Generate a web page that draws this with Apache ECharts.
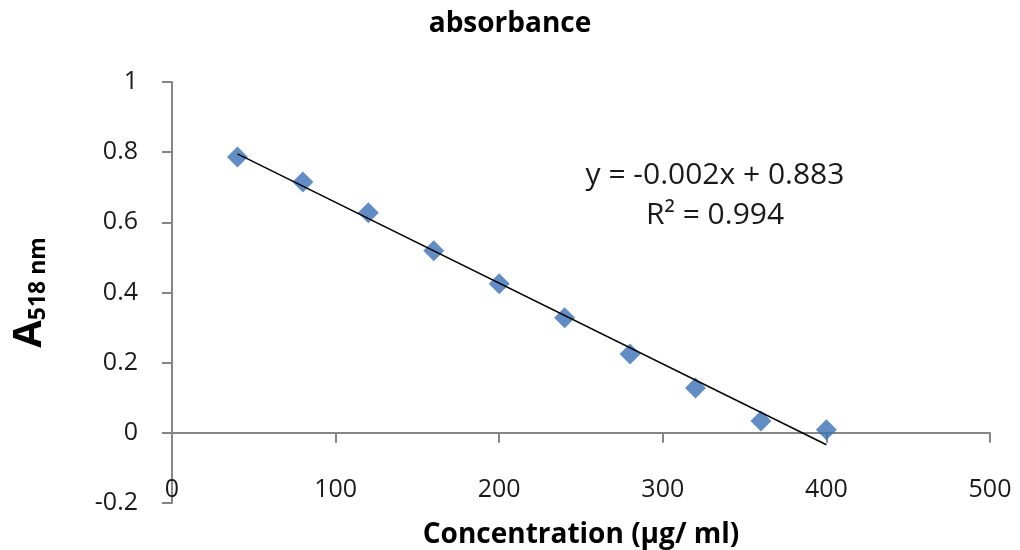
<!DOCTYPE html>
<html>
<head>
<meta charset="utf-8">
<script src="https://cdn.jsdelivr.net/npm/echarts@6/dist/echarts.min.js"></script>
<style>
  html, body { margin: 0; padding: 0; background: #fff; }
  #chart { width: 1020px; height: 550px; }
</style>
</head>
<body>
<div id="chart"></div>
<script>
// concentration (µg/ml) and absorbance
const concentration = [40, 80, 120, 160, 200, 240, 280, 320, 360, 400]
const absorbance = [0.786, 0.715, 0.627, 0.519, 0.425, 0.328, 0.225, 0.128, 0.034, 0.009]
// linear trendline endpoints
const trendX = [40, 400]
const trendY = [0.795, -0.034]
const equationText = ['y = -0.002x + 0.883', 'R² = 0.994']

const axisColor = '#868686'
const textColor = '#1a1a1a'

const chart = echarts.init(document.getElementById('chart'))
chart.setOption({
  animation: false,
  title: {
    text: 'absorbance',
    left: 'center',
    top: 5,
    textStyle: { fontFamily: 'Open Sans', fontWeight: 'bold', fontSize: 28, color: '#000' },
  },
  grid: { left: 172, right: 30, top: 82, bottom: 47, outerBoundsMode: 'none' },
  xAxis: {
    type: 'value',
    min: 0,
    max: 500,
    interval: 100,
    axisLine: { onZero: true, lineStyle: { color: axisColor, width: 2 } },
    axisTick: { show: true, length: 10, inside: false, lineStyle: { color: axisColor, width: 2 } },
    splitLine: { show: false },
    axisLabel: { margin: -26, color: textColor, fontFamily: 'Open Sans', fontSize: 25 },
    name: 'Concentration (µg/ ml)',
    nameLocation: 'middle',
    nameGap: 18,
    nameTextStyle: { fontFamily: 'Open Sans', fontWeight: 'bold', fontSize: 28, color: '#000' },
  },
  yAxis: {
    type: 'value',
    min: -0.2,
    max: 1,
    interval: 0.2,
    axisLine: { show: true, onZero: false, lineStyle: { color: axisColor, width: 2 } },
    axisTick: { show: true, length: 10, lineStyle: { color: axisColor, width: 2 } },
    splitLine: { show: false },
    axisLabel: { margin: 34, color: textColor, fontFamily: 'Open Sans', fontSize: 25 },
    name: '{a|A}{s|518 nm}',
    nameLocation: 'middle',
    nameRotate: 90,
    nameGap: 122,
    nameTextStyle: {
      rich: {
        a: { fontFamily: 'Open Sans', fontWeight: 'bold', fontSize: 40, color: '#000' },
        s: { fontFamily: 'Open Sans', fontWeight: 'bold', fontSize: 23, color: '#000', padding: [16, 0, 0, 0] },
      },
    },
  },
  graphic: [
    {
      type: 'text',
      x: 715,
      y: 175,
      style: {
        text: equationText[0],
        font: '30px "Open Sans"',
        fill: textColor,
        align: 'center',
        verticalAlign: 'middle',
      },
    },
    {
      type: 'text',
      x: 715,
      y: 215,
      style: {
        text: equationText[1],
        font: '30px "Open Sans"',
        fill: textColor,
        align: 'center',
        verticalAlign: 'middle',
      },
    },
  ],
  series: [
    {
      name: 'trend',
      type: 'line',
      data: trendX.map((x, i) => [x, trendY[i]]),
      symbol: 'none',
      lineStyle: { color: '#000', width: 1.5 },
      z: 3,
    },
    {
      name: 'absorbance',
      type: 'scatter',
      data: concentration.map((x, i) => [x, absorbance[i]]),
      symbol: 'diamond',
      symbolSize: [21, 21],
      itemStyle: { color: '#3a71b5' },
      z: 2,
    },
  ],
})
</script>
</body>
</html>
